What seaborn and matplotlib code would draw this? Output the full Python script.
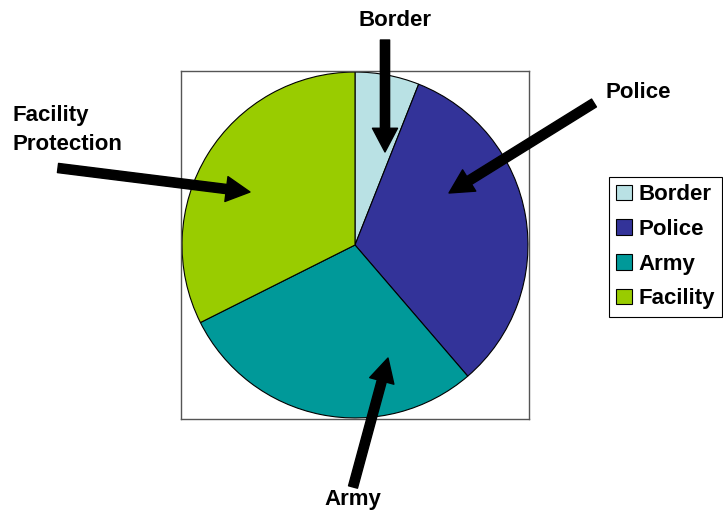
import matplotlib
matplotlib.use("Agg")
import seaborn as sns
import matplotlib.pyplot as plt
from matplotlib.patches import Patch

sns.set_style("white")
plt.rcParams['font.family'] = ['Liberation Sans', 'DejaVu Sans']
plt.rcParams['text.color'] = 'black'

# shares (percent)
labels = ['Border', 'Police', 'Army', 'Facility']
values = [6.0, 32.7, 28.9, 32.4]
colors = ['#B9E1E4', '#333399', '#009999', '#99CC00']

fig = plt.figure(figsize=(7.23, 5.14), dpi=100)
W, H = 723, 514
ax = fig.add_axes([181 / W, 1 - 419 / H, 348 / W, 348 / H])

ax.pie(values, colors=colors, startangle=90, counterclock=False,
       wedgeprops=dict(edgecolor='black', linewidth=0.8))
ax.set_xlim(-1.006, 1.006)
ax.set_ylim(-1.006, 1.006)
ax.set_aspect('auto')
ax.set_frame_on(True)
for s in ax.spines.values():
    s.set_visible(True)
    s.set_color('#555555')
    s.set_linewidth(1.0)

def px(x, y):
    return (x / W, 1 - y / H)

fs = 16
arrow = dict(arrowstyle='simple,head_length=0.9,head_width=0.95,tail_width=0.35',
             color='black', mutation_scale=19, shrinkA=0, shrinkB=0)

# call-out labels with arrows
fig.text(*px(395, 20), 'Border', ha='center', va='center', fontsize=fs, fontweight='bold')
ax.annotate('', xy=px(385, 152), xytext=px(385, 40), xycoords='figure fraction',
            textcoords='figure fraction', arrowprops=arrow, annotation_clip=False)

fig.text(*px(638, 92), 'Police', ha='center', va='center', fontsize=fs, fontweight='bold')
ax.annotate('', xy=px(449, 193), xytext=px(594, 103), xycoords='figure fraction',
            textcoords='figure fraction', arrowprops=arrow, annotation_clip=False)

fig.text(*px(12, 130), 'Facility\nProtection', ha='left', va='center', fontsize=fs,
         fontweight='bold', linespacing=1.5)
ax.annotate('', xy=px(250, 192), xytext=px(58, 168), xycoords='figure fraction',
            textcoords='figure fraction', arrowprops=arrow, annotation_clip=False)

fig.text(*px(353, 500), 'Army', ha='center', va='center', fontsize=fs, fontweight='bold')
ax.annotate('', xy=px(388, 358), xytext=px(353, 487), xycoords='figure fraction',
            textcoords='figure fraction', arrowprops=arrow, annotation_clip=False)

handles = [Patch(facecolor=c, edgecolor='black', linewidth=0.8) for c in colors]
leg = fig.legend(handles, labels, loc='upper left', bbox_to_anchor=px(609, 177),
                 frameon=True, fancybox=False, edgecolor='black', framealpha=1,
                 prop=dict(weight='bold', size=fs), handlelength=0.7,
                 handleheight=0.7, handletextpad=0.3, labelspacing=0.62,
                 borderpad=0.32, borderaxespad=0)
leg.get_frame().set_linewidth(0.8)

fig.savefig('out.png', dpi=100)
